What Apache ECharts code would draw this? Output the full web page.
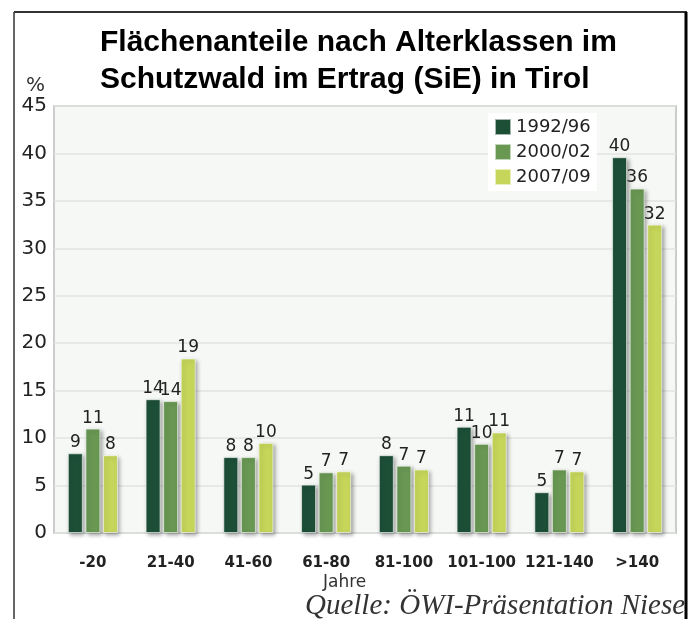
<!DOCTYPE html>
<html>
<head>
<meta charset="utf-8">
<script src="https://cdn.jsdelivr.net/npm/echarts@6/dist/echarts.min.js"></script>
<style>
  html, body { margin: 0; padding: 0; background: #fff; }
  #chart { width: 693px; height: 619px; }
</style>
</head>
<body>
<div id="chart"></div>
<script>
// Altersklassen (Jahre)
const categories = ['-20', '21-40', '41-60', '61-80', '81-100', '101-100', '121-140', '>140'];
const seriesNames = ['1992/96', '2000/02', '2007/09'];
// Balkenhöhen
const values9296 = [8.4, 14.1, 8.0, 5.1, 8.2, 11.2, 4.3, 39.6];
const values0002 = [11.0, 13.9, 8.0, 6.4, 7.1, 9.4, 6.7, 36.3];
const values0709 = [8.2, 18.4, 9.5, 6.5, 6.7, 10.6, 6.5, 32.5];
// Beschriftungen über den Balken
const labels9296 = [9, 14, 8, 5, 8, 11, 5, 40];
const labels0002 = [11, 14, 8, 7, 7, 10, 7, 36];
const labels0709 = [8, 19, 10, 7, 7, 11, 7, 32];
const colors = ['#1d4f37', '#699853', '#c6d65a'];

const chart = echarts.init(document.getElementById('chart'));

function makeSeries(name, data, labels, color) {
  return {
    name: name,
    type: 'bar',
    data: data,
    barWidth: 15,
    barGap: '17%',
    itemStyle: {
      color: color,
      borderColor: 'rgba(255,255,255,0.6)',
      borderWidth: 1,
      shadowColor: 'rgba(0,0,0,0.35)',
      shadowBlur: 4,
      shadowOffsetX: 2,
      shadowOffsetY: 2
    },
    label: {
      show: true,
      position: 'top',
      distance: 2,
      fontFamily: 'DejaVu Sans',
      fontSize: 17,
      color: '#222',
      formatter: p => labels[p.dataIndex]
    }
  };
}

chart.setOption({
  animation: false,
  title: {
    text: 'Flächenanteile nach Alterklassen im\nSchutzwald im Ertrag (SiE) in Tirol',
    left: 95,
    top: 19,
    textStyle: {
      fontFamily: 'Liberation Sans',
      fontWeight: 'bold',
      fontSize: 30,
      lineHeight: 37,
      color: '#000'
    }
  },
  legend: {
    orient: 'vertical',
    left: 488,
    top: 113,
    data: seriesNames,
    icon: 'rect',
    itemWidth: 16,
    itemHeight: 16,
    itemGap: 7,
    padding: [5, 6, 5, 6],
    backgroundColor: '#fff',
    textStyle: { fontFamily: 'DejaVu Sans', fontSize: 18, color: '#222' }
  },
  grid: {
    left: 54,
    right: 17,
    top: 106,
    bottom: 86,
    show: true,
    backgroundColor: '#f5f8f5',
    borderColor: '#cbcdcb',
    borderWidth: 2
  },
  xAxis: {
    type: 'category',
    data: categories,
    axisLine: { show: false },
    axisTick: { show: false },
    axisLabel: {
      interval: 0,
      margin: 23,
      fontFamily: 'DejaVu Sans',
      fontWeight: 'bold',
      fontSize: 15,
      color: '#222'
    }
  },
  yAxis: {
    type: 'value',
    min: 0,
    max: 45,
    interval: 5,
    name: '%',
    nameGap: 5,
    nameTextStyle: {
      fontFamily: 'DejaVu Sans',
      fontSize: 20,
      color: '#333',
      align: 'right',
      padding: [0, 9, 0, 0]
    },
    axisLine: { show: false },
    axisTick: { show: false },
    splitLine: { lineStyle: { color: '#e1e4e1', width: 1.5 } },
    axisLabel: {
      margin: 7,
      fontFamily: 'DejaVu Sans',
      fontSize: 20,
      color: '#222'
    }
  },
  graphic: [
    { type: 'line', shape: { x1: 14, y1: 12, x2: 14, y2: 619 }, style: { stroke: '#666', lineWidth: 2 } },
    { type: 'line', shape: { x1: 14, y1: 12, x2: 687, y2: 12 }, style: { stroke: '#333', lineWidth: 2 } },
    { type: 'line', shape: { x1: 686, y1: 12, x2: 686, y2: 619 }, style: { stroke: '#000', lineWidth: 3 } },
    {
      type: 'text', left: 323, top: 574,
      style: { text: 'Jahre', font: '17px "DejaVu Sans"', fill: '#333' }
    },
    {
      type: 'text', left: 305, top: 592,
      style: { text: 'Quelle: ÖWI-Präsentation Niese', font: 'italic 29px "Liberation Serif"', fill: '#333' }
    }
  ],
  series: [
    makeSeries(seriesNames[0], values9296, labels9296, colors[0]),
    makeSeries(seriesNames[1], values0002, labels0002, colors[1]),
    makeSeries(seriesNames[2], values0709, labels0709, colors[2])
  ]
});
</script>
</body>
</html>
